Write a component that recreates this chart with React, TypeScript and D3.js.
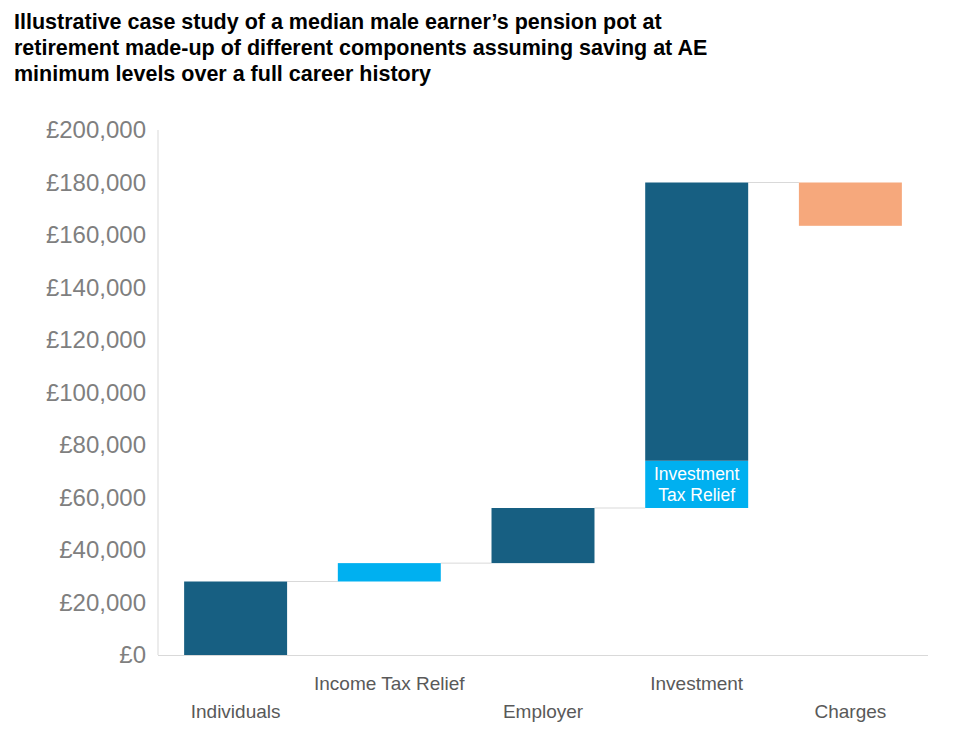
import { useEffect, useRef } from 'react';
import * as d3 from 'd3';

const categories = ['Individuals', 'Income Tax Relief', 'Employer', 'Investment', 'Charges'];
// waterfall segments: category, start, end, colour key
const segStart = [0, 28000, 35000, 56000, 74000, 180000];
const segEnd = [28000, 35000, 56000, 74000, 180000, 163500];
const segCat = [0, 1, 2, 3, 3, 4];
const segKind = ['dark', 'light', 'dark', 'light', 'dark', 'charge'];
const yTicks = [0, 20000, 40000, 60000, 80000, 100000, 120000, 140000, 160000, 180000, 200000];
const titleLines = [
  'Illustrative case study of a median male earner\u2019s pension pot at',
  'retirement made-up of different components assuming saving at AE',
  'minimum levels over a full career history',
];

const colours: Record<string, string> = { dark: '#175f82', light: '#00b0f0', charge: '#f6a87c' };

export default function App() {
  const svgRef = useRef<SVGSVGElement>(null);

  useEffect(() => {
    if (!svgRef.current) return;
    const svg = d3.select(svgRef.current);
    svg.selectAll('*').remove();
    const font = 'Liberation Sans, Arial, sans-serif';

    const x = d3.scaleBand<number>().domain(d3.range(categories.length)).range([158, 928]).paddingInner(0.33).paddingOuter(0.17);
    const y = d3.scaleLinear().domain([0, 200000]).range([655, 130]);

    svg.selectAll('text.title').data(titleLines).enter().append('text')
      .attr('x', 14).attr('y', (_, i) => 29 + i * 26)
      .attr('font-family', font).attr('font-weight', 'bold').attr('font-size', 21.5).attr('fill', '#000')
      .text(d => d);

    // axes lines
    svg.append('line').attr('x1', 158).attr('x2', 158).attr('y1', 130).attr('y2', 655).attr('stroke', '#d9d9d9');
    svg.append('line').attr('x1', 158).attr('x2', 928).attr('y1', 655.5).attr('y2', 655.5).attr('stroke', '#d9d9d9');

    svg.selectAll('text.ytick').data(yTicks).enter().append('text')
      .attr('x', 146).attr('y', d => y(d)).attr('dy', '0.35em').attr('text-anchor', 'end')
      .attr('font-family', font).attr('font-size', 24).attr('fill', '#7f7f7f')
      .text(d => '\u00a3' + d3.format(',')(d));

    // connectors
    const bw = x.bandwidth();
    [0, 1, 2, 4].forEach(i => {
      const c = segCat[i];
      const v = segEnd[i];
      const next = c + 1;
      svg.append('line').attr('x1', x(c)! + bw).attr('x2', x(next)!)
        .attr('y1', y(v)).attr('y2', y(v)).attr('stroke', '#d9d9d9').attr('stroke-width', 1);
    });

    segStart.forEach((s, i) => {
      const e = segEnd[i];
      svg.append('rect').attr('x', x(segCat[i])!).attr('width', bw)
        .attr('y', y(Math.max(s, e))).attr('height', Math.abs(y(s) - y(e)))
        .attr('fill', colours[segKind[i]]);
    });

    const cx = x(3)! + bw / 2;
    ['Investment', 'Tax Relief'].forEach((t, i) => {
      svg.append('text').attr('x', cx).attr('y', y(65000) + (i - 0.5) * 21).attr('dy', '0.35em')
        .attr('text-anchor', 'middle').attr('font-family', font).attr('font-size', 17.5).attr('fill', '#fff').text(t);
    });

    svg.selectAll('text.xlab').data(categories).enter().append('text')
      .attr('x', (_, i) => x(i)! + bw / 2).attr('y', (_, i) => (i % 2 === 0 ? 718 : 690))
      .attr('text-anchor', 'middle').attr('font-family', font).attr('font-size', 19).attr('fill', '#595959')
      .text(d => d);
  }, []);

  return (
    <div style={{ position: 'absolute', left: 0, top: 0 }}>
      <svg ref={svgRef} width={963} height={744} style={{ background: '#fff', display: 'block' }} />
    </div>
  );
}
